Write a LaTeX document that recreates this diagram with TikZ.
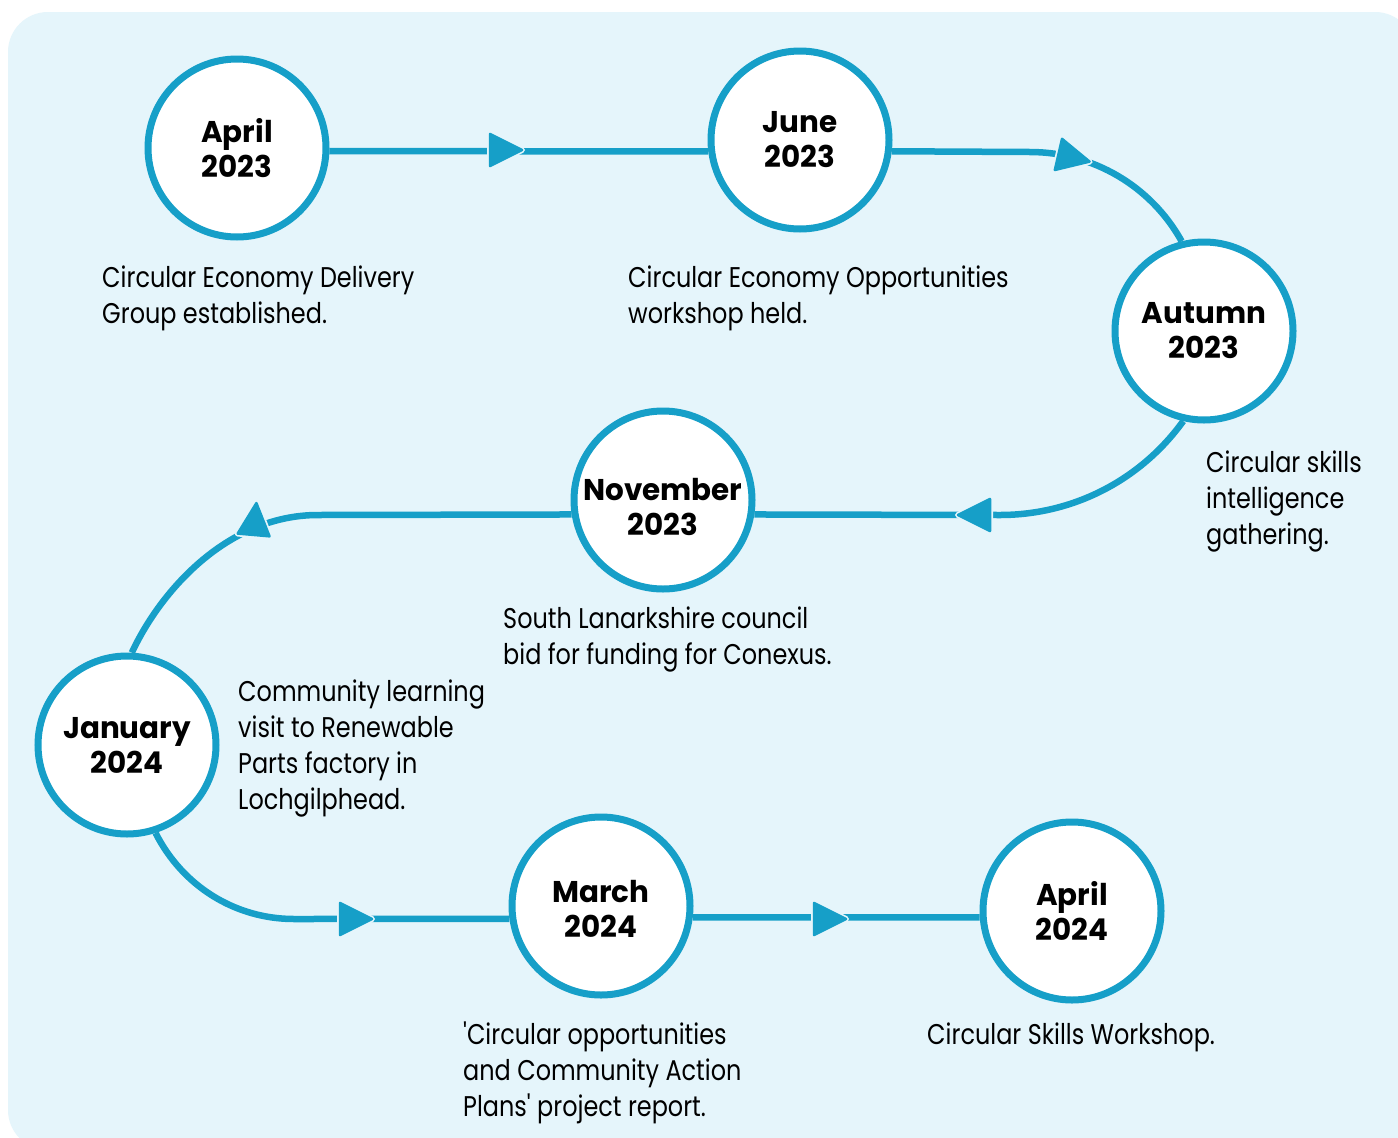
\documentclass[tikz,border=0pt]{standalone}
\usepackage{fontspec}
\setmainfont{Poppins}[FakeStretch=0.84, Ligatures=TeXOff]
\newfontfamily\headfont{Poppins}[FakeStretch=0.98]
\usetikzlibrary{calc}

\definecolor{lb}{HTML}{169FC8}
\definecolor{bgc}{HTML}{E5F5FB}
\newcommand\firstline{\rule{0pt}{22pt}}

\tikzset{
  circ/.style={circle, draw=lb, line width=7pt, fill=white, minimum size=178pt,
    inner sep=0pt, align=center, font=\headfont\bfseries\fontsize{30}{35}\selectfont},
  conn/.style={draw=lb, line width=6.5pt},
  body/.style={anchor=north west, inner sep=0pt, align=left,
    font=\fontsize{28.5}{36}\selectfont},
  tiph/.pic={
    \filldraw[bgc, line width=6pt, line join=round] (-16,-16) -- (16,0) -- (-16,16) -- cycle;
    \filldraw[lb, line width=2.5pt, line join=round] (-16,-16) -- (16,0) -- (-16,16) -- cycle;
  }
}

\begin{document}
\begin{tikzpicture}[x=1pt, y=-1pt]
\useasboundingbox (0,0) rectangle (1398,1138);
\fill[white] (0,0) rectangle (1398,1138);
\fill[bgc, rounded corners=40pt] (8,12) rectangle (1415,1150);

% milestones
\node[circ] (a23) at (237,148) {April\\2023};
\node[circ] (j23) at (800,140) {June\\2023};
\node[circ] (au23) at (1204,331) {Autumn\\2023};
\node[circ] (n23) at (663,500) {\rule{0pt}{36pt}November\\2023};
\node[circ] (j24) at (127,745) {January\\2024};
\node[circ] (m24) at (601,906) {\rule{0pt}{28pt}March\\2024};
\node[circ] (a24) at (1072,911) {April\\2024};

% route between milestones
\coordinate (k2) at (1030,152);
\coordinate (k3) at (1000,515);
\coordinate (k4) at (318,515);
\coordinate (k5) at (294,919);
\draw[conn] (a23.-2) -- (j23.187);
\draw[conn] (j23.-7.5) -- (k2) .. controls (1093,152) and (1151,186) .. (au23.104);
\draw[conn] (au23.-103) .. controls (1140,481) and (1072,515) .. (k3) -- (n23.-9.5);
\draw[conn] (n23.189.5) -- (k4) .. controls (228,515) and (161,590) .. (j24.87);
\draw[conn] (j24.-72) .. controls (183,887) and (236,919) .. (k5) -- (m24.188);
\draw[conn] (m24.-7.5) -- (a24.184.5);

% direction marks
\pic at (506,150) {tiph};
\pic[rotate=-13] at (1074,158) {tiph};
\pic[rotate=180] at (974,515) {tiph};
\pic[rotate=85] at (255,519) {tiph};
\pic at (356,919) {tiph};
\pic at (830,919) {tiph};

% descriptions
\node[body] (t1) at (102,265) {\firstline Circular Economy Delivery\\Group established.};
\node[body] (t2) at (628,265) {\firstline Circular Economy Opportunities\\workshop held.};
\node[body] (t3) at (1206,450) {\firstline Circular skills\\intelligence\\gathering.};
\node[body] (t4) at (503,606) {\firstline South Lanarkshire council\\bid for funding for Conexus.};
\node[body] (t5) at (238,679) {\firstline Community learning\\visit to Renewable\\Parts factory in\\Lochgilphead.};
\node[body] (t6) at (463,1022) {\firstline 'Circular opportunities\\and Community Action\\Plans' project report.};
\node[body] (t7) at (927,1022) {\firstline Circular Skills Workshop.};
\end{tikzpicture}
\end{document}
